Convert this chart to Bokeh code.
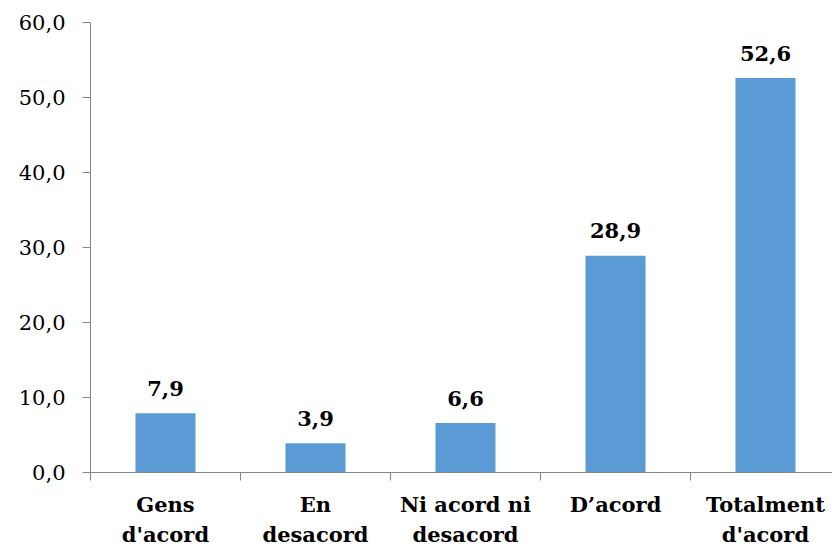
from bokeh.plotting import figure
from bokeh.models import ColumnDataSource, FixedTicker, Range1d
from bokeh.core.properties import value
from bokeh.embed import file_html
from bokeh.resources import INLINE

categories = ["Gens\nd'acord", "En\ndesacord", "Ni acord ni\ndesacord", "D\u2019acord", "Totalment\nd'acord"]
values = [7.9, 3.9, 6.6, 28.9, 52.6]
value_labels = ["7,9", "3,9", "6,6", "28,9", "52,6"]
y_ticks = [0, 10, 20, 30, 40, 50, 60]
y_tick_labels = ["0,0", "10,0", "20,0", "30,0", "40,0", "50,0", "60,0"]

xs = [i + 0.5 for i in range(len(categories))]
src = ColumnDataSource(dict(x=xs, top=values, lab=value_labels))

FONT = "DejaVu Serif"

p = figure(width=832, height=549, output_backend="svg", toolbar_location=None,
           x_range=Range1d(0, 742 / 150), y_range=Range1d(0, 60),
           min_border_left=90, min_border_right=0, min_border_top=22, min_border_bottom=77)
p.outline_line_color = None
p.xgrid.grid_line_color = None
p.ygrid.grid_line_color = None
p.background_fill_color = "white"

p.vbar(x="x", top="top", width=0.4, bottom=0, source=src, fill_color="#5B9BD5", line_color=None)

p.text(x="x", y="top", text="lab", source=src, text_align="center",
       text_baseline="alphabetic", y_offset=-25, text_font=value(FONT),
       text_font_style="bold", text_font_size="21px", text_color="black")

ax = p.xaxis[0]
ax.ticker = FixedTicker(ticks=xs, minor_ticks=[0, 1, 2, 3, 4, 5])
ax.major_label_overrides = {x: c for x, c in zip(xs, categories)}
ax.major_tick_out = 0
ax.major_tick_in = 0
ax.minor_tick_out = 8
ax.minor_tick_in = 0
ax.minor_tick_line_color = "#868686"
ax.axis_line_color = "#868686"
ax.major_label_standoff = 11
ax.major_label_text_font = FONT
ax.major_label_text_font_style = "bold"
ax.major_label_text_font_size = "21px"
ax.major_label_text_color = "black"
ax.major_label_text_line_height = 1.2

ay = p.yaxis[0]
ay.ticker = FixedTicker(ticks=y_ticks, minor_ticks=[])
ay.major_label_overrides = {t: l for t, l in zip(y_ticks, y_tick_labels)}
ay.major_tick_out = 8
ay.major_tick_in = 0
ay.major_tick_line_color = "#868686"
ay.axis_line_color = "#868686"
ay.major_label_standoff = 17
ay.major_label_text_font = FONT
ay.major_label_text_font_size = "21px"
ay.major_label_text_color = "black"

open("out.html", "w").write(file_html(p, INLINE))
